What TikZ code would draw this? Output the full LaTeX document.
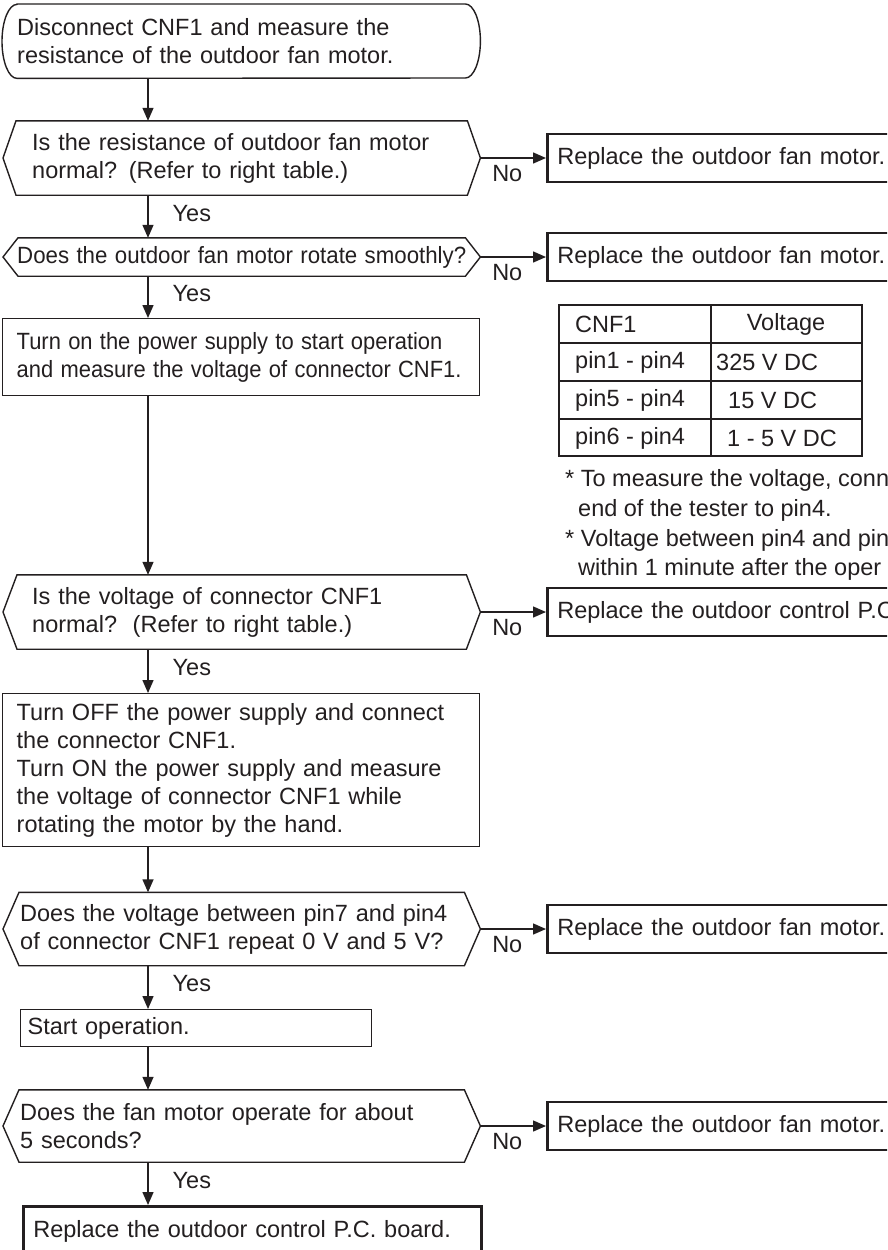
\documentclass[tikz,border=0pt]{standalone}
\usepackage{fontspec}
\usepackage{graphicx}
\setmainfont{Liberation Sans}
\usetikzlibrary{arrows.meta,calc}
\definecolor{ink}{RGB}{35,31,32}
\newcommand\oneline[1]{\mbox{#1}}
\newcommand\squeeze[2]{\scalebox{#1}[1]{\mbox{#2}}}
\newcommand\hexout[2]{\draw[line] (#1.west) -- ($(#1.north west)+(#2,0)$) -- ($(#1.north east)+(-#2,0)$) -- (#1.east) -- ($(#1.south east)+(-#2,0)$) -- ($(#1.south west)+(#2,0)$) -- cycle;}
\begin{document}
\begin{tikzpicture}[x=1pt,y=-1pt,
  every node/.style={font=\fontsize{23.5}{28}\selectfont, text=ink},
  line/.style={draw=ink, line width=1.4pt},
  arr/.style={draw=ink, line width=1.4pt, -{Triangle[length=13pt,width=11pt]}},
  shapeless/.style={align=left, inner ysep=0pt},
  dec/.style={shapeless, anchor=west, minimum width=477pt},
  proc/.style={shapeless, draw=ink, line width=1.4pt, anchor=north west},
  endbox/.style={shapeless, draw=ink, line width=2.6pt, anchor=west, minimum height=48pt, inner xsep=10pt, text width=600pt},
  yeslab/.style={pos=0.42, anchor=west, inner sep=0pt, xshift=24pt},
  nolab/.style={pos=0.41, anchor=north, inner sep=0pt, yshift=-7pt},
  cell/.style={anchor=west, inner sep=0pt},
  note/.style={anchor=base west, inner sep=0pt}]
\useasboundingbox (0,0) rectangle (887,1250);
\clip (0,0) rectangle (887,1250);
\fill[white] (0,0) rectangle (887,1250);
\coordinate (c) at (148,0);

% start terminal
\node[shapeless, anchor=north west, minimum width=478pt, minimum height=74pt, text width=448pt, inner xsep=15pt] (s) at (2,4)
  {\oneline{Disconnect CNF1 and measure the}\\\oneline{resistance of the outdoor fan motor.}};
\draw[line] ($(s.north west)+(15,0)$) -- ($(s.north east)+(-15,0)$)
  arc[start angle=90,end angle=-90,x radius=15pt,y radius=37pt]
  -- ($(s.south west)+(15,0)$)
  arc[start angle=270,end angle=90,x radius=15pt,y radius=37pt] -- cycle;

% decisions and process boxes
\node[dec, minimum height=74pt, inner xsep=29pt, text width=419pt] (d1) at (3,158)
  {\oneline{Is the resistance of outdoor fan motor}\\\oneline{normal? (Refer to right table.)}};
\hexout{d1}{13}
\node[dec, minimum height=38pt, inner xsep=14pt, text width=449pt] (d2) at (3,257)
  {\squeeze{0.947}{Does the outdoor fan motor rotate smoothly?}};
\hexout{d2}{15}
\node[proc, minimum height=77pt, inner xsep=14pt, text width=449pt] (b3) at (2,318)
  {\squeeze{0.933}{Turn on the power supply to start operation}\\\squeeze{0.933}{and measure the voltage of connector CNF1.}};
\node[dec, minimum height=74pt, inner xsep=29pt, text width=419pt] (d3) at (3,612)
  {\oneline{Is the voltage of connector CNF1}\\\oneline{normal?\ \ (Refer to right table.)}};
\hexout{d3}{14}
\node[proc, minimum height=153pt, inner xsep=14pt, text width=449pt] (b4) at (2,693)
  {\oneline{Turn OFF the power supply and connect}\\\oneline{the connector CNF1.}\\\oneline{Turn ON the power supply and measure}\\\oneline{the voltage of connector CNF1 while}\\\oneline{rotating the motor by the hand.}};
\node[dec, minimum height=73pt, inner xsep=17pt, text width=443pt] (d4) at (3,929)
  {\oneline{Does the voltage between pin7 and pin4}\\\oneline{of connector CNF1 repeat 0 V and 5 V?}};
\hexout{d4}{16}
\node[proc, minimum height=37pt, inner xsep=7pt, text width=337pt] (b5) at (20,1009)
  {\oneline{Start operation.}};
\node[dec, minimum height=72pt, inner xsep=17pt, text width=443pt] (d5) at (3,1126)
  {\oneline{Does the fan motor operate for about}\\\oneline{5 seconds?}};
\hexout{d5}{16}
\node[proc, line width=2.6pt, minimum height=50pt, inner xsep=10pt, text width=438pt] (f) at (22,1205)
  {\oneline{Replace the outdoor control P.C. board.}};

% right-hand boxes
\node[endbox] (r1) at (546,158) {\oneline{Replace the outdoor fan motor.}};
\node[endbox] (r2) at (546,257) {\oneline{Replace the outdoor fan motor.}};
\node[endbox] (r3) at (546,612) {\oneline{Replace the outdoor control P.C. board.}};
\node[endbox] (r4) at (546,929) {\oneline{Replace the outdoor fan motor.}};
\node[endbox] (r5) at (546,1126) {\oneline{Replace the outdoor fan motor.}};

% vertical connectors
\draw[arr] (s.south -| c) -- (d1.north -| c);
\draw[arr] (d1.south -| c) -- (d2.north -| c) node[yeslab] {Yes};
\draw[arr] (d2.south -| c) -- (b3.north -| c) node[yeslab] {Yes};
\draw[arr] (b3.south -| c) -- (d3.north -| c);
\draw[arr] (d3.south -| c) -- (b4.north -| c) node[yeslab] {Yes};
\draw[arr] (b4.south -| c) -- (d4.north -| c);
\draw[arr] (d4.south -| c) -- (b5.north -| c) node[yeslab] {Yes};
\draw[arr] (b5.south -| c) -- (d5.north -| c);
\draw[arr] (d5.south -| c) -- (f.north -| c) node[yeslab] {Yes};

% horizontal connectors
\draw[arr] (d1.east) -- (r1.west) node[nolab] {No};
\draw[arr] (d2.east) -- (r2.west) node[nolab] {No};
\draw[arr] (d3.east) -- (r3.west) node[nolab] {No};
\draw[arr] (d4.east) -- (r4.west) node[nolab] {No};
\draw[arr] (d5.east) -- (r5.west) node[nolab] {No};

% table
\draw[line] (559,305) rectangle (862,456);
\draw[line] (559,343) -- (862,343);
\draw[line] (559,381) -- (862,381);
\draw[line] (559,419) -- (862,419);
\draw[line] (711,305) -- (711,456);
\node[cell] (t11) at (575,324) {CNF1};
\node[inner sep=0pt] (t12) at (786,324) {Voltage};
\node[cell] (t21) at (575,362) {pin1 - pin4};
\node[cell] (t22) at (716,362) {325 V DC};
\node[cell] (t31) at (575,400) {pin5 - pin4};
\node[cell] (t32) at (728,400) {15 V DC};
\node[cell] (t41) at (575,438) {pin6 - pin4};
\node[cell] (t42) at (727,438) {1 - 5 V DC};

% notes
\node[note] (n1) at (565,486) {* To measure the voltage, conn};
\node[note] (n2) at (578,516) {end of the tester to pin4.};
\node[note] (n3) at (565,546) {* Voltage between pin4 and pin};
\node[note] (n4) at (578,575) {within 1 minute after the oper};
\end{tikzpicture}
\end{document}
